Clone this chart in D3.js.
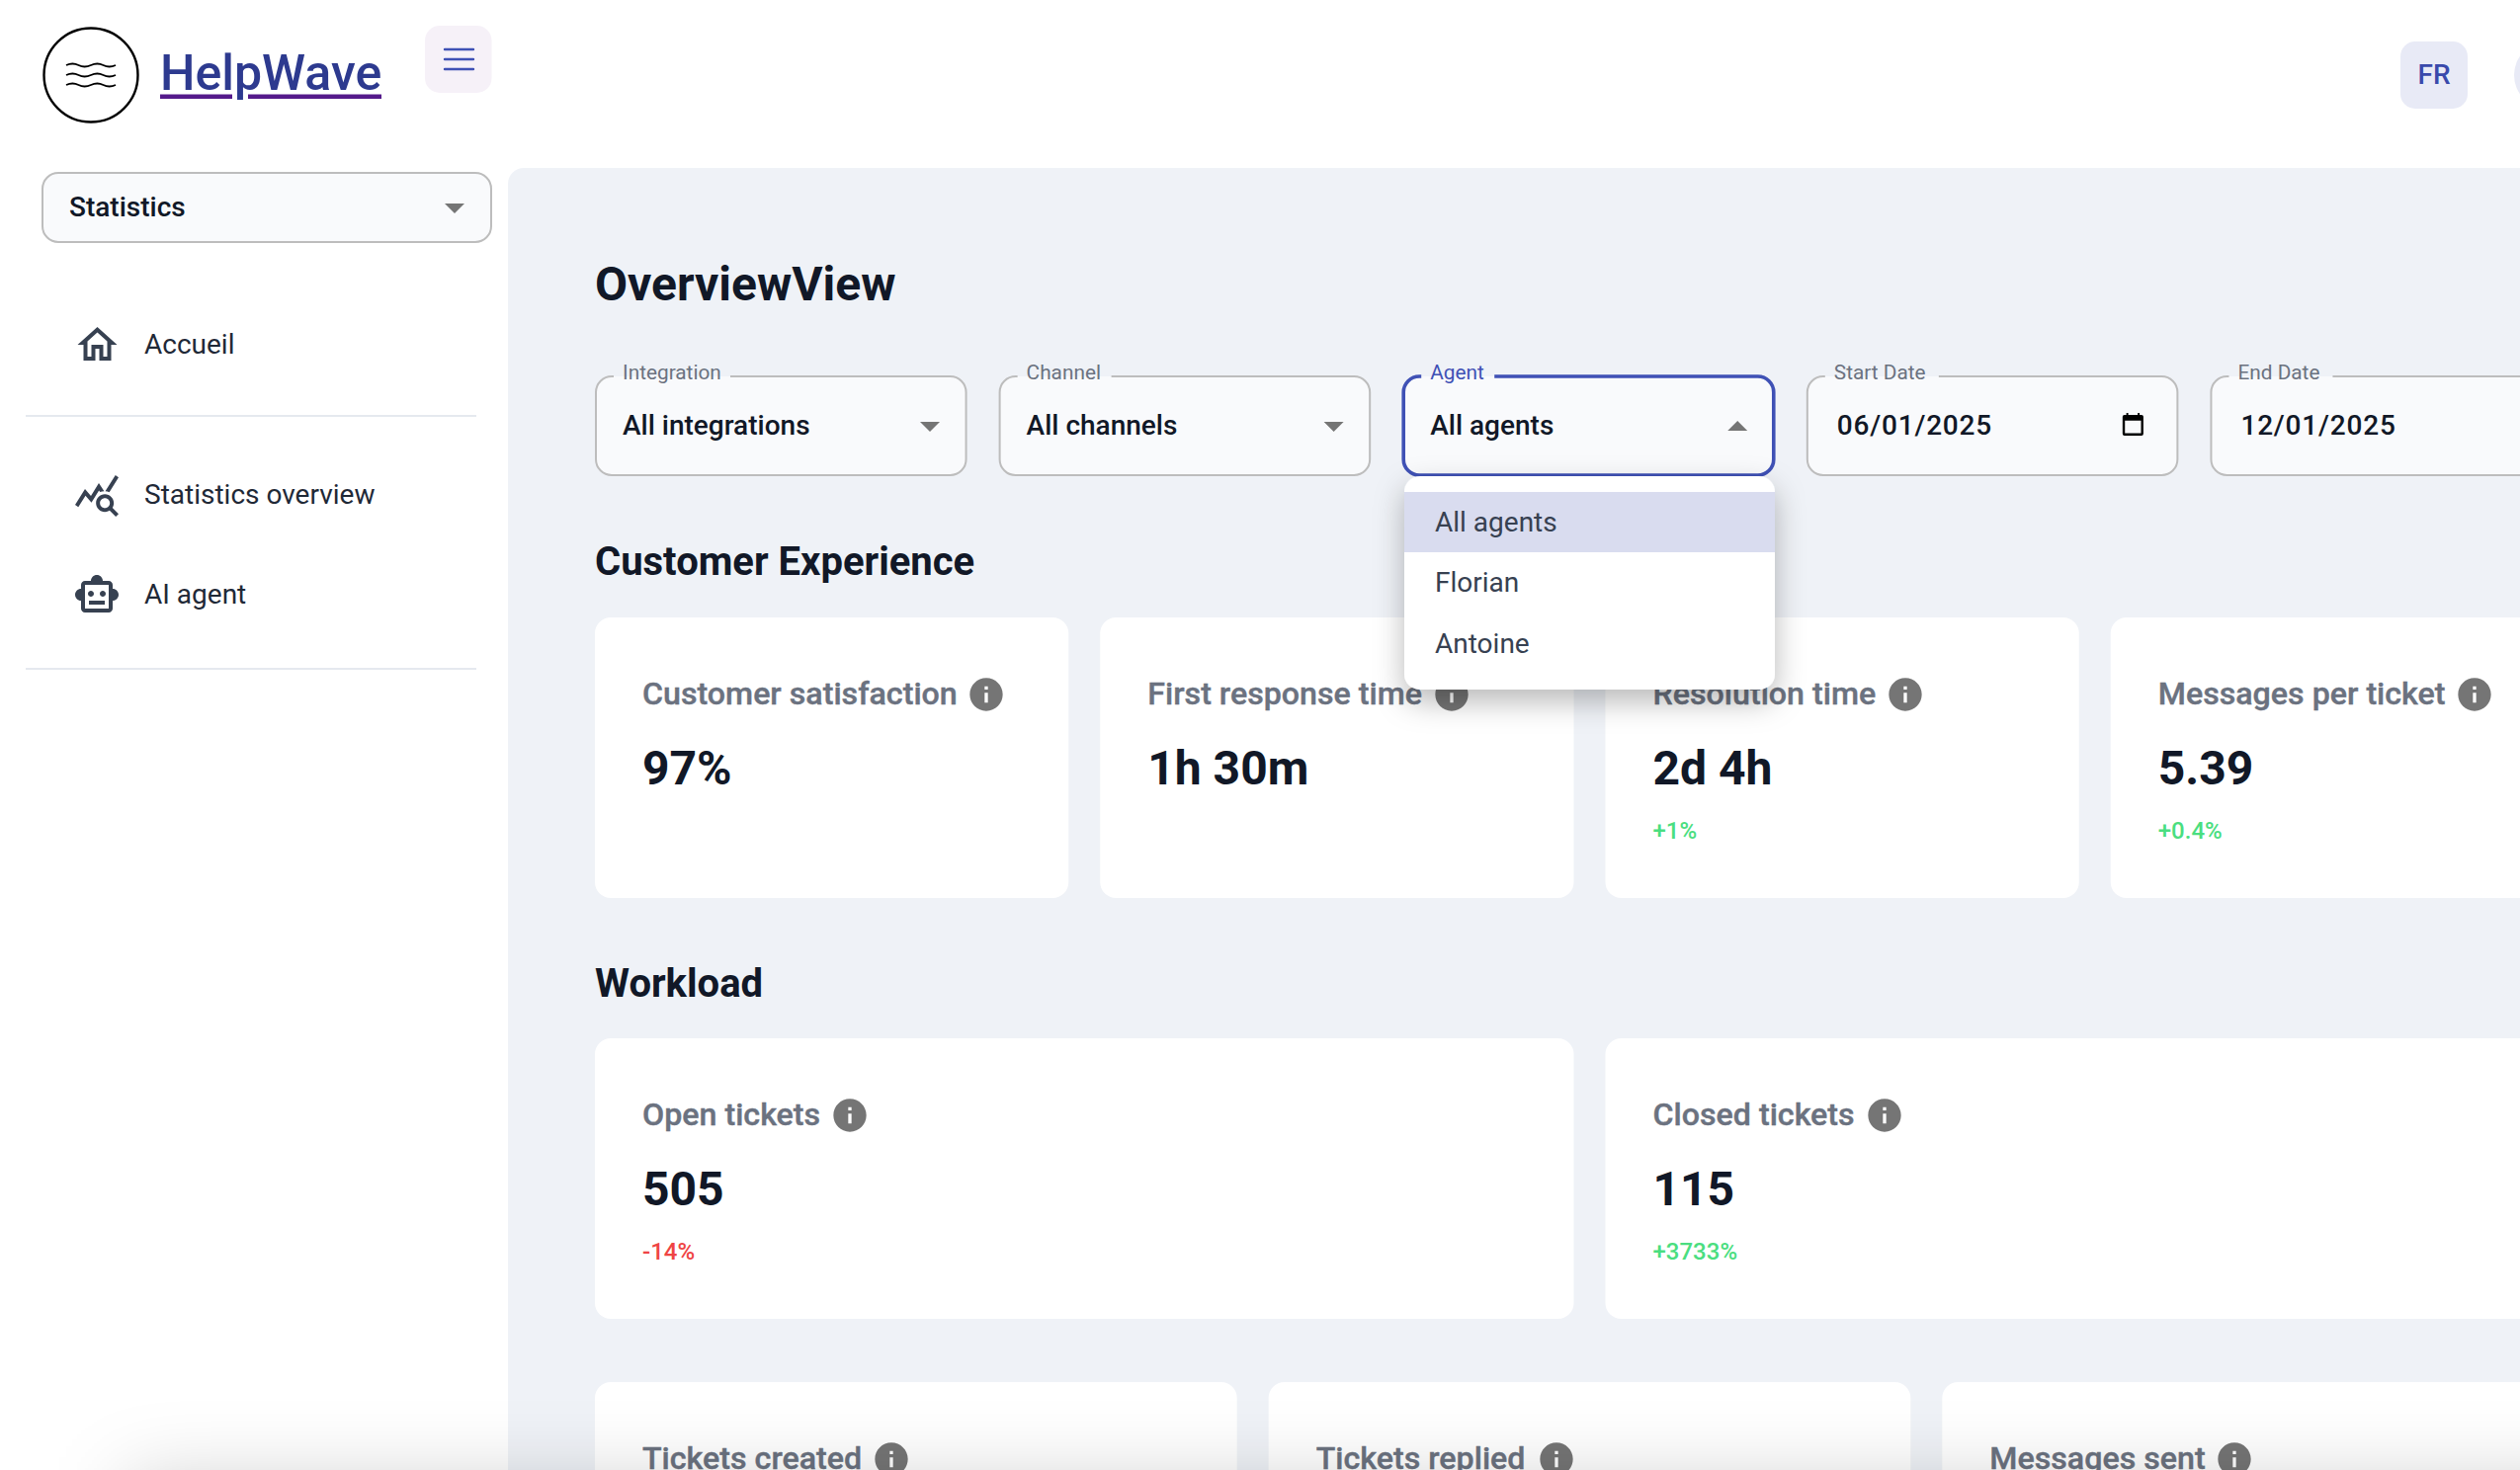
<!DOCTYPE html>
<html>
<head>
<meta charset="utf-8">
<title>HelpWave</title>
<script src="https://cdn.jsdelivr.net/npm/d3@7"></script>
<style>
  html, body { margin: 0; padding: 0; background: #fff; overflow: hidden; }
  svg { display: block; font-family: Roboto, sans-serif; }
</style>
</head>
<body>
<div id="page"></div>
<script>
// text and values
const navItems = ["Accueil", "Statistics overview", "AI agent"];
const filterLabels = ["Integration", "Channel", "Agent", "Start Date", "End Date"];
const filterValues = ["All integrations", "All channels", "All agents", "06/01/2025", "12/01/2025"];
const agentOptions = ["All agents", "Florian", "Antoine"];

const experienceTitles = ["Customer satisfaction", "First response time", "Resolution time", "Messages per ticket"];
const experienceValues = ["97%", "1h 30m", "2d 4h", "5.39"];
const experienceDeltas = [null, null, 1, 0.4];

const ticketTitles = ["Open tickets", "Closed tickets"];
const ticketValues = ["505", "115"];
const ticketDeltas = [-14, 3733];

const volumeTitles = ["Tickets created", "Tickets replied", "Messages sent"];

const WIDTH = 2550;
const HEIGHT = 1488;
const INK = "#111827";
const GREY = "#6b7280";
const INDIGO = "#3f51b5";
const PANEL = "#eff2f7";
const FIELD = "#f9fafc";
const LINE = "#bdbdbd";

// material icon paths, 24 unit box
const ICON_HOME = "m12 5.69 5 4.5V18h-2v-6H9v6H7v-7.81zM12 3 2 12h3v8h6v-6h2v6h6v-8h3z";
const ICON_STATS = "M19.88 18.47c.44-.7.7-1.51.7-2.39 0-2.49-2.01-4.5-4.5-4.5s-4.5 2.01-4.5 4.5 2.01 4.5 4.49 4.5c.88 0 1.7-.26 2.39-.7L21.58 23 23 21.58zm-3.8.11c-1.38 0-2.5-1.12-2.5-2.5s1.12-2.5 2.5-2.5 2.5 1.12 2.5 2.5-1.12 2.5-2.5 2.5m-.36-8.5c-.74.02-1.45.18-2.1.45l-.55-.83-3.8 6.18-3.01-3.52-3.63 5.81L1 17l5-8 3 3.5L13 6zm2.59.5c-.64-.28-1.33-.45-2.05-.49L21.38 2 23 3.18z";
const ICON_ROBOT = "M20 9V7c0-1.1-.9-2-2-2h-3c0-1.66-1.34-3-3-3S9 3.34 9 5H6c-1.1 0-2 .9-2 2v2c-1.66 0-3 1.34-3 3s1.34 3 3 3v4c0 1.1.9 2 2 2h12c1.1 0 2-.9 2-2v-4c1.66 0 3-1.34 3-3s-1.34-3-3-3m-2 10H6V7h12zm-9-6c-.83 0-1.5-.67-1.5-1.5S8.17 10 9 10s1.5.67 1.5 1.5S9.83 13 9 13m7.5-1.5c0 .83-.67 1.5-1.5 1.5s-1.5-.67-1.5-1.5.67-1.5 1.5-1.5 1.5.67 1.5 1.5M8 15h8v2H8z";
const ICON_INFO = "M12 2C6.48 2 2 6.48 2 12s4.48 10 10 10 10-4.48 10-10S17.52 2 12 2m1 15h-2v-6h2zm0-8h-2V7h2z";
const ICON_CALENDAR = "M4 0h2v2h10V0h2v2h2a2 2 0 0 1 2 2v18a2 2 0 0 1-2 2H2a2 2 0 0 1-2-2V4a2 2 0 0 1 2-2h2zM2.5 8v13.5h17V8z";

const svg = d3.select("#page").append("svg")
    .attr("width", WIDTH)
    .attr("height", HEIGHT);

const defs = svg.append("defs");
defs.append("filter").attr("id", "menu-shadow")
    .attr("x", "-30%").attr("y", "-30%").attr("width", "160%").attr("height", "170%")
    .append("feDropShadow")
    .attr("dx", 0).attr("dy", 12).attr("stdDeviation", 15)
    .attr("flood-color", "#000").attr("flood-opacity", 0.28);
defs.append("filter").attr("id", "page-shadow")
    .attr("filterUnits", "userSpaceOnUse")
    .attr("x", 0).attr("y", 1200).attr("width", WIDTH).attr("height", 500)
    .append("feGaussianBlur").attr("stdDeviation", 40);

function label(parent, x, y, str, size, weight, color) {
    return parent.append("text")
        .attr("x", x).attr("y", y)
        .attr("font-size", size)
        .attr("font-weight", weight)
        .attr("fill", color)
        .text(str);
}

function icon(parent, path, x, y, size, color) {
    return parent.append("path")
        .attr("d", path)
        .attr("fill", color)
        .attr("fill-rule", "evenodd")
        .attr("transform", `translate(${x},${y}) scale(${size / 24})`);
}

function triangle(parent, cx, cy, up) {
    return parent.append("path")
        .attr("d", up ? "M-10 5L10 5L0-5z" : "M-10-5L10-5L0 5z")
        .attr("fill", "#757575")
        .attr("transform", `translate(${cx},${cy})`);
}

// outline of a material text field, with a gap in the top edge for the label
function outline(x, y, w, h, r, gapStart, gapEnd) {
    const p = d3.path();
    p.moveTo(gapEnd, y);
    p.lineTo(x + w - r, y);
    p.arcTo(x + w, y, x + w, y + r, r);
    p.lineTo(x + w, y + h - r);
    p.arcTo(x + w, y + h, x + w - r, y + h, r);
    p.lineTo(x + r, y + h);
    p.arcTo(x, y + h, x, y + h - r, r);
    p.lineTo(x, y + r);
    p.arcTo(x, y, x + r, y, r);
    p.lineTo(gapStart, y);
    return p.toString();
}

/* ---------- header ---------- */
const header = svg.append("g");
header.append("circle")
    .attr("cx", 92).attr("cy", 76).attr("r", 47.5)
    .attr("fill", "#fff").attr("stroke", "#000").attr("stroke-width", 2.4);
[66, 76, 86].forEach(function (y) {
    header.append("path")
        .attr("d", `M67 ${y}q6.5-3 12.5 0t12.5 0t12.5 0t12.5 0`)
        .attr("fill", "none").attr("stroke", "#000").attr("stroke-width", 1.8);
});

label(header, 162, 91, "HelpWave", 50, 500, "#2d3a8f");
header.append("rect").attr("x", 162).attr("y", 95.5).attr("width", 73).attr("height", 4.5).attr("fill", "#551a8b");
header.append("rect").attr("x", 251).attr("y", 95.5).attr("width", 135).attr("height", 4.5).attr("fill", "#551a8b");

header.append("rect")
    .attr("x", 430).attr("y", 26).attr("width", 67.5).attr("height", 68).attr("rx", 15)
    .attr("fill", "#f6f1f8");
[50, 60, 70].forEach(function (y) {
    header.append("line")
        .attr("x1", 450).attr("x2", 479).attr("y1", y).attr("y2", y)
        .attr("stroke", INDIGO).attr("stroke-width", 2.4).attr("stroke-linecap", "round");
});

header.append("rect")
    .attr("x", 2429).attr("y", 42).attr("width", 68).attr("height", 68).attr("rx", 15)
    .attr("fill", "#e8eaf6");
label(header, 2463, 85, "FR", 28, 500, "#3949ab").attr("text-anchor", "middle");
header.append("circle").attr("cx", 2578).attr("cy", 76).attr("r", 34).attr("fill", "#e8eaf6");

/* ---------- sidebar ---------- */
const side = svg.append("g");
side.append("rect")
    .attr("x", 43).attr("y", 175).attr("width", 454).attr("height", 70).attr("rx", 16)
    .attr("fill", FIELD).attr("stroke", LINE).attr("stroke-width", 2);
label(side, 70, 219, "Statistics", 28, 500, INK);
triangle(side, 460, 211, false);

const navY = d3.scaleOrdinal().domain(navItems).range([358, 510, 611]);
const navIconY = d3.scaleOrdinal().domain(navItems).range([325, 477, 578]);
const navIcons = [ICON_HOME, ICON_STATS, ICON_ROBOT];
navItems.forEach(function (name, i) {
    label(side, 146, navY(name), name, 28, 400, "#1f2937");
    icon(side, navIcons[i], i ? 74 : 74.5, navIconY(name), 48, "#374151");
});
[421, 677].forEach(function (y) {
    side.append("line")
        .attr("x1", 26).attr("x2", 482).attr("y1", y).attr("y2", y)
        .attr("stroke", "#e5e9ef").attr("stroke-width", 2);
});

/* ---------- main panel ---------- */
const main = svg.append("g");
main.append("rect")
    .attr("x", 514).attr("y", 170).attr("width", WIDTH).attr("height", HEIGHT).attr("rx", 16)
    .attr("fill", PANEL);

label(main, 602, 304, "OverviewView", 48, 700, INK);
label(main, 602, 582, "Customer Experience", 40, 700, INK);
label(main, 602, 1009, "Workload", 40, 700, INK);

/* ---------- filters ---------- */
const filterX = d3.scaleBand()
    .domain(filterLabels)
    .range([603, 2612])
    .paddingInner(34 / 408);
const labelGap = [118, 95, 74, 115, 105];

const filters = main.selectAll("g.filter")
    .data(filterLabels)
    .enter().append("g")
    .attr("class", "filter")
    .attr("transform", d => `translate(${filterX(d)},381)`);

filters.append("rect")
    .attr("width", filterX.bandwidth()).attr("height", 100).attr("rx", 16)
    .attr("fill", FIELD);
filters.append("path")
    .attr("d", (d, i) => outline(0, 0, filterX.bandwidth(), 100, 16, 18, 18 + labelGap[i]))
    .attr("fill", "none")
    .attr("stroke", d => d === "Agent" ? INDIGO : LINE)
    .attr("stroke-width", d => d === "Agent" ? 3.6 : 2);
filters.append("text")
    .attr("x", 27).attr("y", 3)
    .attr("font-size", 20.8)
    .attr("fill", d => d === "Agent" ? INDIGO : GREY)
    .text(d => d);
filters.append("text")
    .attr("x", (d, i) => i > 2 ? 30 : 27).attr("y", 58.5)
    .attr("font-size", 28)
    .attr("font-weight", 500)
    .attr("fill", INK)
    .attr("letter-spacing", (d, i) => i > 2 ? 0.8 : 0)
    .text((d, i) => filterValues[i]);

filters.filter((d, i) => i < 3).each(function (d) {
    triangle(d3.select(this), 338, d === "Agent" ? 50 : 51, d === "Agent");
});
icon(filters.filter(d => d === "Start Date"), ICON_CALENDAR, 319, 37, 23, "#000");

/* ---------- stat cards ---------- */
function cardRow(titles, values, deltas, top, height, infoCentre) {
    const x = d3.scaleBand()
        .domain(titles)
        .range([602, 2615])
        .paddingInner(32 / (((2615 - 602) + 32) / titles.length));
    const row = main.selectAll(null)
        .data(titles)
        .enter().append("g")
        .attr("transform", d => `translate(${x(d)},${top})`);
    row.append("rect")
        .attr("width", x.bandwidth()).attr("height", height).attr("rx", 16)
        .attr("fill", "#fff");
    row.append("text")
        .attr("x", 48).attr("y", 87.5)
        .attr("font-size", 32.2)
        .attr("font-weight", 500)
        .attr("fill", GREY)
        .attr("stroke", GREY)
        .attr("stroke-width", 0.4)
        .text(d => d);
    row.each(function (d, i) {
        const g = d3.select(this);
        icon(g, ICON_INFO, infoCentre[i] - x(d) - 20, 58, 40, "#757575");
        if (values) {
            label(g, 48, 169, values[i], 48, 700, INK);
        }
        if (deltas && deltas[i] !== null) {
            const v = deltas[i];
            label(g, 48, 224, (v > 0 ? "+" : "") + v + "%", 24, 500, v < 0 ? "#ef4444" : "#4ade80");
        }
    });
}

// the info icon follows the title, its centre was read per card
cardRow(experienceTitles, experienceValues, experienceDeltas, 625, 284, [998, 1469, 1928, 2504]);
cardRow(ticketTitles, ticketValues, ticketDeltas, 1051, 284, [860, 1907]);
cardRow(volumeTitles, null, null, 1399, 284, [902, 1575, 2261]);

/* ---------- open agent menu ---------- */
const menu = svg.append("g");
menu.append("rect")
    .attr("x", 1421).attr("y", 482).attr("width", 375).attr("height", 216).attr("rx", 16)
    .attr("fill", "#fff")
    .attr("filter", "url(#menu-shadow)");
menu.append("rect")
    .attr("x", 1421).attr("y", 498).attr("width", 375).attr("height", 61)
    .attr("fill", "#d9dcef");
const optionY = d3.scalePoint().domain(agentOptions).range([537.5, 661]);
agentOptions.forEach(function (name) {
    label(menu, 1452, optionY(name), name, 28, 400, "#374151");
});

/* ---------- shadow from something just below the fold ---------- */
svg.append("rect")
    .attr("x", 130).attr("y", 1501).attr("width", WIDTH).attr("height", 300)
    .attr("fill", "#000").attr("fill-opacity", 0.2)
    .attr("filter", "url(#page-shadow)");
</script>
</body>
</html>
